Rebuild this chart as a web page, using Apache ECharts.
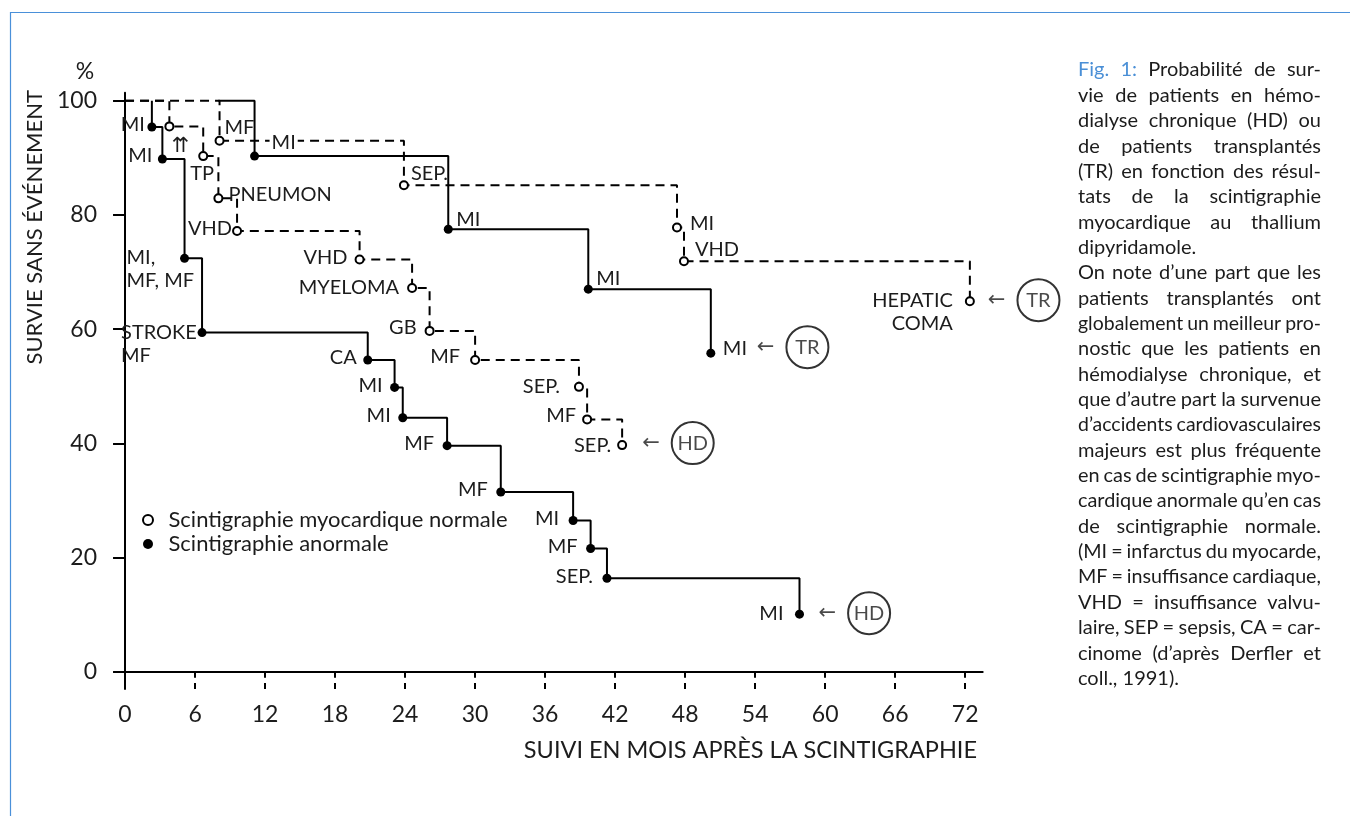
<!DOCTYPE html>
<html><head><meta charset="utf-8">
<script src="https://cdn.jsdelivr.net/npm/echarts@6/dist/echarts.min.js"></script>
<style>html,body{margin:0;padding:0;background:#fff}#c{width:1350px;height:816px}</style>
</head><body><div id="c"></div>
<script>
// ---------- DATA ----------
const xTickValues = [6, 12, 18, 24, 30, 36, 42, 48, 54, 60, 66, 72];
const xLabelValues = [0, 6, 12, 18, 24, 30, 36, 42, 48, 54, 60, 66, 72];
const yTickValues = [0, 20, 40, 60, 80, 100];

const nameNormal = 'Scintigraphie myocardique normale';
const nameAbnormal = 'Scintigraphie anormale';

// HD, abnormal scintigraphy (solid, filled dots)
const hdAbnT = [2.3, 2.3, 3.2, 5.1, 6.6, 20.8, 23.1, 23.8, 27.6, 32.2, 38.4, 39.9, 41.3, 57.8];
const hdAbnS = [100, 95.4, 89.8, 72.4, 59.4, 54.6, 49.8, 44.5, 39.6, 31.5, 26.5, 21.6, 16.4, 10.1];
const hdAbnEv = ['', 'MI', 'MI', 'MI,\nMF, MF', 'STROKE\nMF', 'CA', 'MI', 'MI', 'MF', 'MF', 'MI', 'MF', 'SEP.', 'MI'];

// TR, abnormal scintigraphy (solid, filled dots)
const trAbnT = [8.0, 11.1, 27.7, 39.7, 50.2];
const trAbnS = [100, 90.3, 77.5, 67.0, 55.8];
const trAbnEv = ['', 'MI', 'MI', 'MI', 'MI'];

// HD, normal scintigraphy (dashed, open circles)
const hdNorT = [0, 3.8, 6.7, 8.0, 9.6, 20.1, 24.6, 26.1, 30.0, 38.9, 39.6, 42.6];
const hdNorS = [100, 95.5, 90.3, 82.9, 77.2, 72.2, 67.2, 59.7, 54.6, 49.9, 44.2, 39.7];
const hdNorEv = ['', '⇈', 'TP', 'PNEUMON', 'VHD', 'VHD', 'MYELOMA', 'GB', 'MF', 'SEP.', 'MF', 'SEP.'];

// TR, normal scintigraphy (dashed, open circles)
const trNorT = [0, 8.1, 23.9, 47.3, 47.9, 72.4];
const trNorS = [100, 93.0, 85.2, 77.8, 71.9, 64.9];
const trNorEv = ['', 'MF', 'SEP.', 'MI', 'VHD', 'HEPATIC\nCOMA'];

const groupHdAbn = 'HD', groupTrAbn = 'TR', groupHdNor = 'HD', groupTrNor = 'TR';

const captionLines = [
  'Fig. 1: Probabilité de sur-',
  'vie de patients en hémo-',
  'dialyse chronique (HD) ou',
  'de patients transplantés',
  '(TR) en fonction des résul-',
  'tats de la scintigraphie',
  'myocardique au thallium',
  'dipyridamole.',
  'On note d’une part que les',
  'patients transplantés ont',
  'globalement un meilleur pro-',
  'nostic que les patients en',
  'hémodialyse chronique, et',
  'que d’autre part la survenue',
  'd’accidents cardiovasculaires',
  'majeurs est plus fréquente',
  'en cas de scintigraphie myo-',
  'cardique anormale qu’en cas',
  'de scintigraphie normale.',
  '(MI = infarctus du myocarde,',
  'MF = insuffisance cardiaque,',
  'VHD = insuffisance valvu-',
  'laire, SEP = sepsis, CA = car-',
  'cinome (d’après Derfler et',
  'coll., 1991).'
];
const captionParagraphEnds = [7, 24];

// ---------- STYLE / LAYOUT ----------
const FONT = "Lato, 'DejaVu Sans', sans-serif";
const TXT = '#1c1c1c';
const BLUE = '#4a8fd6';

// label placements: [dx, dy, align, verticalAlign] relative to the marker centre
const placeHdAbn = [null, [-7,-2], [-10,-3], [-58,-12,'left','top'], [-81,-12,'left','top'], [-11,-2], [-12,-2], [-12,-2], [-13,-2], [-13,-2], [-14,-2], [-13,-2], [-14,-2], [-16,-1]];
const placeTrAbn = [null, [15,-14,'left'], [8,-10,'left'], [8,-11,'left'], [12,-5,'left']];
const placeHdNor = [null, [11,20,'center'], [-1,17,'center'], [10,-4,'left'], [-5,-2], [-12,-2], [-13,0], [-13,-3], [-15,-3], [-19,0], [-11,-4], [-11,0]];
const placeTrNor = [null, [5,-13,'left'], [7,-12,'left'], [13,-4,'left'], [11,-12,'left'], [-17,-12,'right','top']];

function mkCurve(name, T, S, EV, place, open, dashed, z) {
  const data = T.map((t, i) => {
    const item = { value: [t, S[i]] };
    if (i === 0) { item.symbol = 'none'; item.label = { show: false }; return item; }
    const p = place[i];
    if (EV[i] && p) {
      item.label = {
        show: true, formatter: EV[i], offset: [p[0], p[1]],
        align: p[2] || 'right', verticalAlign: p[3] || 'middle'
      };
      if (EV[i] === '⇈') { item.label.fontFamily = "'DejaVu Sans', sans-serif"; item.label.fontSize = 21; }
      if (T === trAbnT && i === 1) { item.label.backgroundColor = '#fff'; item.label.padding = [0, 2]; }
    } else item.label = { show: false };
    return item;
  });
  return {
    type: 'line', name, step: 'end', data, z,
    symbol: 'circle', symbolSize: open ? 8 : 9, showAllSymbol: true,
    lineStyle: { color: '#000', width: 2, type: dashed ? [9, 6] : 'solid' },
    itemStyle: open ? { color: '#fff', borderColor: '#000', borderWidth: 2 } : { color: '#000', borderWidth: 0 },
    label: { show: false, position: 'inside', color: TXT, fontSize: 20, fontFamily: FONT, lineHeight: 23 },
    emphasis: { disabled: true }, silent: true
  };
}

function endAnnot(T, S, grp, dx, dy) {
  const i = T.length - 1;
  return { value: [T[i], S[i]], label: { offset: [dx, dy], formatter: '{a|←}{c|' + grp + '}' } };
}

const series = [
  mkCurve(nameNormal, hdNorT, hdNorS, hdNorEv, placeHdNor, true, true, 2),
  mkCurve(nameNormal, trNorT, trNorS, trNorEv, placeTrNor, true, true, 2),
  mkCurve(nameAbnormal, hdAbnT, hdAbnS, hdAbnEv, placeHdAbn, false, false, 3),
  mkCurve(nameAbnormal, trAbnT, trAbnS, trAbnEv, placeTrAbn, false, false, 3),
  {
    type: 'scatter', name: 'annot', silent: true, z: 5,
    symbolSize: 1, itemStyle: { color: 'rgba(0,0,0,0)' },
    label: {
      show: true, position: 'inside', align: 'left', verticalAlign: 'middle', color: TXT,
      rich: {
        a: { fontSize: 21, fontFamily: "'DejaVu Sans', sans-serif", color: TXT, padding: [0, 12, 0, 0] },
        c: { width: 42, height: 42, lineHeight: 42, borderRadius: 22, borderWidth: 2, borderColor: '#000',
             align: 'center', verticalAlign: 'middle', fontSize: 20, fontFamily: FONT, color: TXT }
      }
    },
    data: [
      endAnnot(hdAbnT, hdAbnS, groupHdAbn, 19, -1),
      endAnnot(trAbnT, trAbnS, groupTrAbn, 46, -6),
      endAnnot(hdNorT, hdNorS, groupHdNor, 20, -2),
      endAnnot(trNorT, trNorS, groupTrNor, 18, -1)
    ]
  }
];

// ---------- caption (justified) ----------
function captionGraphics() {
  const size = 20, left = 1078, width = 243, top = 70, lh = 25.35;
  const ctx = document.createElement('canvas').getContext('2d');
  ctx.font = size + 'px Lato';
  const space = ctx.measureText(' ').width, minGap = size * 0.2;
  const els = [];
  captionLines.forEach((line, i) => {
    const words = line.split(' ');
    const ws = words.map(w => ctx.measureText(w).width);
    const sum = ws.reduce((a, b) => a + b, 0);
    const n = words.length;
    let s = 1, gap = space;
    if (n > 1) {
      s = Math.min(1, (width - minGap * (n - 1)) / sum);
      if (captionParagraphEnds.indexOf(i) < 0) gap = (width - s * sum) / (n - 1);
    }
    let x = left;
    words.forEach((w, k) => {
      els.push({
        type: 'text', x, y: top + i * lh, scaleX: s, silent: true,
        style: { text: w, fontSize: size, fontFamily: 'Lato', fill: (i === 0 && k < 2) ? BLUE : TXT,
                 align: 'left', textAlign: 'left', verticalAlign: 'middle', textVerticalAlign: 'middle' }
      });
      x += ws[k] * s + gap;
    });
  });
  return els;
}

const graphic = [
  { type: 'rect', silent: true, shape: { x: 10.5, y: 12.5, width: 1400, height: 900 },
    style: { fill: 'none', stroke: '#4a90d9', lineWidth: 1.2 } },
  { type: 'text', x: 85, y: 72, silent: true,
    style: { text: '%', fontSize: 23, fontFamily: FONT, fill: TXT, align: 'center', textAlign: 'center', verticalAlign: 'middle', textVerticalAlign: 'middle' } },
  { type: 'text', x: 35, y: 90, rotation: Math.PI / 2, silent: true,
    style: { text: 'SURVIE SANS ÉVÉNEMENT', fontSize: 22, fontFamily: FONT, fill: TXT, align: 'right', textAlign: 'right', verticalAlign: 'middle', textVerticalAlign: 'middle' } },
  { type: 'text', x: 977, y: 750, silent: true,
    style: { text: 'SUIVI EN MOIS APRÈS LA SCINTIGRAPHIE', fontSize: 23.5, fontFamily: FONT, fill: TXT, align: 'right', textAlign: 'right', verticalAlign: 'middle', textVerticalAlign: 'middle' } }
].concat(captionGraphics());

const axisLine = { show: true, lineStyle: { color: '#000', width: 2 } };
const option = {
  animation: false,
  backgroundColor: '#fff',
  textStyle: { fontFamily: FONT },
  grid: { left: 115, top: 92.7, right: 367.3, bottom: 127, containLabel: false, outerBoundsMode: 'none' },
  xAxis: [
    { type: 'value', min: -0.86, max: 73.5, position: 'bottom',
      axisLine, splitLine: { show: false },
      axisTick: { show: true, length: 6, customValues: xTickValues, lineStyle: { color: '#000', width: 2 } },
      axisLabel: { customValues: xLabelValues, margin: 14, fontSize: 23, color: TXT, fontFamily: FONT } },
    { type: 'value', min: -0.86, max: 73.5, position: 'bottom',
      axisLine: { show: false }, splitLine: { show: false },
      axisTick: { show: true, inside: true, length: 6, customValues: xTickValues, lineStyle: { color: '#000', width: 2 } },
      axisLabel: { show: false } }
  ],
  yAxis: {
    type: 'value', min: -3, max: 101.4, axisLine, splitLine: { show: false },
    axisTick: { show: true, length: 12, customValues: yTickValues, lineStyle: { color: '#000', width: 2 } },
    axisLabel: { customValues: yTickValues, margin: 18, fontSize: 23, color: TXT, fontFamily: FONT }
  },
  legend: {
    orient: 'vertical', left: 137, top: 504, itemWidth: 31, itemHeight: 10, itemGap: 2,
    selectedMode: false,
    textStyle: { fontSize: 22, fontFamily: FONT, color: TXT, lineHeight: 20 },
    data: [
      { name: nameNormal, icon: 'circle', itemStyle: { color: '#fff', borderColor: '#000', borderWidth: 2 } },
      { name: nameAbnormal, icon: 'circle', itemStyle: { color: '#000', borderColor: '#000', borderWidth: 0 } }
    ]
  },
  graphic,
  series
};
const chart = echarts.init(document.getElementById('c'), null, { renderer: 'canvas' });
chart.setOption(option);
</script>
</body></html>
